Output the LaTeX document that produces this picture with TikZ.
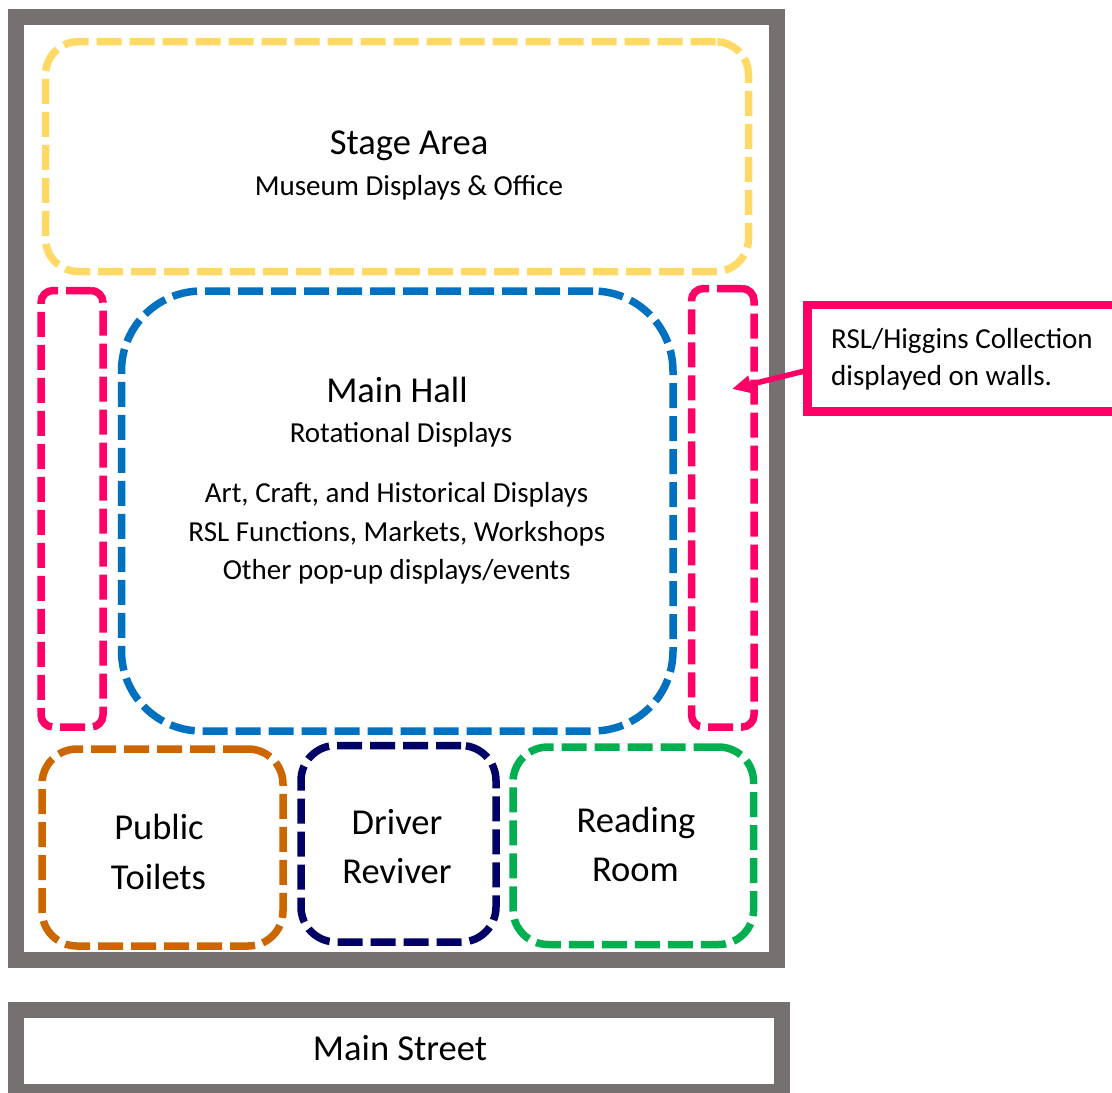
\documentclass[tikz,border=0pt]{standalone}
\usepackage{fontspec}
\setmainfont{Carlito}
\usetikzlibrary{arrows.meta,calc}
\definecolor{wallgray}{HTML}{767171}
\definecolor{stagey}{HTML}{FFD966}
\definecolor{rslpink}{HTML}{FF0066}
\definecolor{hallblue}{HTML}{0070C0}
\definecolor{toiletor}{HTML}{CC6600}
\definecolor{drivernavy}{HTML}{000066}
\definecolor{readgreen}{HTML}{00B050}
\tikzset{
  zone/.style={draw, line width=7.5pt, dash pattern=on 25pt off 8pt,
    rounded corners=#1, inner sep=0pt, outer sep=0pt},
  wall/.style={draw=wallgray, line width=16pt, inner sep=0pt, outer sep=0pt},
  bigtxt/.style={anchor=base, inner sep=0pt, font=\fontsize{36.5}{44}\selectfont},
  smalltxt/.style={anchor=base, inner sep=0pt, font=\fontsize{29}{35}\selectfont},
  notetxt/.style={anchor=base west, inner sep=0pt, font=\fontsize{29}{35}\selectfont}
}
\begin{document}
\begin{tikzpicture}[x=1pt,y=-1pt]
\useasboundingbox (0,0) rectangle (1112,1093);
\clip (0,0) rectangle (1112,1093);
\fill[white] (0,0) rectangle (1112,1093);

% building and street
\node[wall, minimum width=761pt, minimum height=943pt] (building) at (396.5,488) {};
\node[wall, minimum width=766pt, minimum height=82.5pt] (street) at (399,1050.75) {};
\node[bigtxt] (streetT) at (400,1060) {Main Street};

% zones
\node[zone=33pt, stagey, minimum width=703pt, minimum height=229.8pt] (stage) at (397,156.6) {};
\node[zone=12pt, rslpink, minimum width=62pt, minimum height=436.5pt] (wallL) at (72,508.75) {};
\node[zone=12pt, rslpink, minimum width=62.5pt, minimum height=438.5pt] (wallR) at (722.75,507.75) {};
\node[zone=80pt, hallblue, minimum width=551.5pt, minimum height=440pt] (hall) at (397.25,511) {};
\node[zone=35pt, toiletor, minimum width=241pt, minimum height=197pt] (toilets) at (162.5,847.5) {};
\node[zone=35pt, drivernavy, minimum width=195pt, minimum height=196.5pt] (driver) at (398.5,843.75) {};
\node[zone=35pt, readgreen, minimum width=240.6pt, minimum height=197.5pt] (reading) at (633.3,845.75) {};

% texts
\node[bigtxt] (stageT1) at (409,154.3) {Stage Area};
\node[smalltxt] (stageT2) at (409,195) {Museum Displays \& Office};

\node[bigtxt] (hallT1) at (397,402) {Main Hall};
\node[smalltxt] (hallT2) at (401,442.7) {Rotational Displays};
\node[smalltxt] (hallT3) at (396.5,502.7) {Art, Craft, and Historical Displays};
\node[smalltxt] (hallT4) at (396.8,541.7) {RSL Functions, Markets, Workshops};
\node[smalltxt] (hallT5) at (396.7,579.3) {Other pop-up displays/events};

\node[bigtxt] (toiletsT1) at (159,839.3) {Public};
\node[bigtxt] (toiletsT2) at (158.5,889.3) {Toilets};
\node[bigtxt] (driverT1) at (397,834.5) {Driver};
\node[bigtxt] (driverT2) at (397,883.8) {Reviver};
\node[bigtxt] (readingT1) at (636,832.7) {Reading};
\node[bigtxt] (readingT2) at (635.5,881.7) {Room};

% callout
\node[draw=rslpink, line width=8.5pt, minimum width=330pt, minimum height=106.5pt,
      inner sep=0pt, outer sep=0pt] (callout) at (972.5,358.25) {};
\node[notetxt] (noteT1) at (831,348) {RSL/Higgins Collection};
\node[notetxt] (noteT2) at (831,385.5) {displayed on walls.};
\coordinate (tip) at (732,389);
\draw[rslpink, line width=5.5pt, -{Triangle[length=19pt,width=17pt]}]
  ([yshift=-12pt]callout.west) -- (tip);
\end{tikzpicture}
\end{document}
